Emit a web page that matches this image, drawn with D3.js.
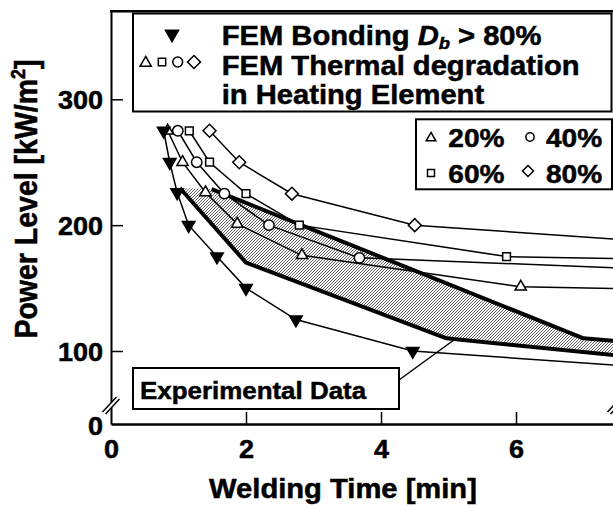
<!DOCTYPE html>
<html><head><meta charset="utf-8">
<script src="https://cdn.jsdelivr.net/npm/d3@7"></script>
<style>body{margin:0;background:#fff}svg{display:block}text{font-family:"Liberation Sans",Arial,Helvetica,sans-serif;font-weight:bold;fill:#000;stroke:#000;stroke-width:0.5px}</style>
</head><body><svg id="c" width="613" height="506"></svg>
<script>
// ---- data ----
const bondT = [0.78, 0.87, 0.98, 1.15, 1.57, 2.0, 2.74, 4.47, 9.0];
const bondP = [275, 250, 226, 200, 175, 150, 125, 100, 83];
const s20T = [0.84, 1.06, 1.40, 1.87, 2.83, 6.07, 9.0];
const s20P = [275, 250, 226, 201, 176, 151, 148];
const s40T = [0.99, 1.27, 1.68, 2.34, 3.68, 9.0];
const s40P = [275, 250, 225, 200, 174, 163];
const s60T = [1.16, 1.46, 2.0, 2.79, 5.86, 9.0];
const s60P = [275, 250, 225, 200, 175, 172];
const s80T = [1.46, 1.90, 2.68, 4.50, 9.0];
const s80P = [275, 250, 225, 200, 183];
const expUpperT = [1.49, 7.0, 8.0];
const expUpperP = [228.7, 110.1, 105.8];
const expLowerT = [1.02, 2.0, 4.97, 8.0];
const expLowerP = [229.5, 170.2, 110.1, 93.7];
const xTicks = [2, 4, 6];
const xTickLabels = [0, 2, 4, 6];
const yTicks = [100, 200, 300];
const yBreakLabel = "0";
const legendPct = ["20%", "40%", "60%", "80%"];

// ---- scales ----
const svg = d3.select("#c");
const x = d3.scaleLinear().domain([0, 8]).range([111, 651]);
const y = d3.scaleLinear().domain([42, 370]).range([424, 11.2]);
const SX = 1.08;

const defs = svg.append("defs");
const pat = defs.append("pattern").attr("id", "hatch").attr("patternUnits", "userSpaceOnUse")
  .attr("width", 3).attr("height", 3);
pat.append("rect").attr("width", 3).attr("height", 3).attr("fill", "#fff");
pat.append("path").attr("d", "M0,3L3,0M-1,1L1,-1M2,4L4,2").attr("stroke", "#444").attr("stroke-width", 0.85);
defs.append("clipPath").attr("id", "plot").append("rect").attr("x", 111).attr("y", 11).attr("width", 520).attr("height", 413);

const plot = svg.append("g").attr("clip-path", "url(#plot)");

// experimental band
const upper = expUpperT.map((t, i) => [x(t), y(expUpperP[i])]);
const lower = expLowerT.map((t, i) => [x(t), y(expLowerP[i])]);
plot.append("path").attr("d", d3.line()(upper.concat(lower.slice().reverse())))
  .attr("fill", "url(#hatch)").attr("stroke", "none");
[upper, lower].forEach(pts => plot.append("path").attr("d", d3.line()(pts))
  .attr("fill", "none").attr("stroke", "#000").attr("stroke-width", 4).attr("stroke-linejoin", "round"));

// series
const series = [
  {T: s20T, P: s20P, sym: "tri"},
  {T: s40T, P: s40P, sym: "circ"},
  {T: s60T, P: s60P, sym: "sq"},
  {T: s80T, P: s80P, sym: "dia"},
  {T: bondT, P: bondP, sym: "ftri"}
];
const symPath = {
  tri: d3.symbol().type(d3.symbolTriangle).size(55)(),
  ftri: d3.symbol().type(d3.symbolTriangle).size(68)(),
  circ: d3.symbol().type(d3.symbolCircle).size(84)(),
  sq: d3.symbol().type(d3.symbolSquare).size(60)(),
  dia: d3.symbol().type(d3.symbolSquare).size(84)()
};
function drawSym(g, kind, cx, cy, scale) {
  const rot = kind === "ftri" ? 180 : kind === "dia" ? 45 : 0;
  g.append("path").attr("d", symPath[kind])
    .attr("transform", `translate(${cx},${cy}) rotate(${rot}) scale(${scale || 1})`)
    .attr("fill", kind === "ftri" ? "#000" : "#fff").attr("stroke", "#000")
    .attr("stroke-width", 1.5 / (scale || 1));
}
series.forEach(s => {
  const pts = s.T.map((t, i) => [x(t), y(s.P[i])]);
  plot.append("path").attr("d", d3.line()(pts)).attr("fill", "none")
    .attr("stroke", "#000").attr("stroke-width", 1.5);
});
series.forEach(s => {
  s.T.forEach((t, i) => drawSym(plot, s.sym, x(t), y(s.P[i])));
});

// axes
const ax = svg.append("g");
const yAxis = d3.axisLeft(y).tickValues(yTicks).tickSizeInner(-12).tickSizeOuter(0).tickPadding(8);
const gy = ax.append("g").attr("transform", "translate(111,0)").call(yAxis);
gy.select(".domain").attr("stroke-width", 2);
gy.selectAll(".tick line").attr("stroke-width", 1.5);
gy.selectAll(".tick text").attr("font-size", 25).attr("dy", "0.36em")
  .attr("font-family", null).attr("transform", `scale(${SX},1)`)
  .attr("x", -8 / SX);

const xAxis = d3.axisBottom(x).tickValues(xTickLabels).tickSizeInner(-12).tickSizeOuter(0).tickPadding(16)
  .tickFormat(d3.format("d"));
const gx = ax.append("g").attr("transform", "translate(0,424)").call(xAxis);
gx.select(".domain").attr("stroke-width", 2.5);
gx.selectAll(".tick line").attr("stroke-width", 1.5).filter(d => !xTicks.includes(d)).remove();
gx.selectAll(".tick text").attr("font-size", 25).attr("font-family", null)
  .attr("transform", `scale(${SX},1)`);
svg.selectAll(".tick text").attr("fill", "#000");

// top frame
svg.append("line").attr("x1", 110).attr("x2", 613).attr("y1", y.range()[1]).attr("y2", y.range()[1])
  .attr("stroke", "#000").attr("stroke-width", 2.5);

// break label
svg.append("text").attr("transform", `translate(103,${y(42) + 11}) scale(${SX},1)`)
  .attr("text-anchor", "end").attr("font-size", 25).text(yBreakLabel);

// break marks
function breakMark(cx, cy) {
  const g = svg.append("g").attr("transform", `translate(${cx},${cy})`);
  g.append("path").attr("d", "M-8.5,8L5.5,-7L8.5,-5L-5.5,10Z").attr("fill", "#fff");
  g.append("path").attr("d", "M-8.5,8L5.5,-7M-5.5,10L8.5,-5").attr("stroke", "#000").attr("stroke-width", 1.5);
}
breakMark(111, 404);
breakMark(616, 404);

// helper for stretched text
function txt(px, py, size, anchor) {
  return svg.append("text").attr("transform", `translate(${px},${py}) scale(${SX},1)`)
    .attr("font-size", size).attr("text-anchor", anchor || "start");
}

// axis titles
txt(343, 498, 27, "middle").text("Welding Time [min]");
const yl = svg.append("text").attr("transform", `translate(37,199) scale(${SX},1) rotate(-90)`)
  .attr("font-size", 28.5).attr("text-anchor", "middle");
yl.append("tspan").text("Power Level [kW/m");
yl.append("tspan").attr("font-size", 18).attr("dy", -11).text("2");
yl.append("tspan").attr("dy", 11).text("]");

// legend 1
svg.append("rect").attr("x", 133).attr("y", 13.5).attr("width", 478.5).attr("height", 98)
  .attr("fill", "#fff").attr("stroke", "#000").attr("stroke-width", 2);
const l1 = txt(221.7, 45, 27);
l1.append("tspan").text("FEM Bonding ");
l1.append("tspan").attr("font-style", "italic").text("D");
l1.append("tspan").attr("font-style", "italic").attr("font-size", 17).attr("dy", 4).text("b");
l1.append("tspan").attr("dy", -4).text(" > 80%");
txt(221.7, 74.5, 27).text("FEM Thermal degradation");
txt(221.7, 103.5, 27).text("in Heating Element");
drawSym(svg, "ftri", 172, 34, 1.05);
drawSym(svg, "tri", 145.7, 63, 1.0);
drawSym(svg, "sq", 162, 62, 0.95);
drawSym(svg, "circ", 177.7, 62, 0.95);
drawSym(svg, "dia", 194, 62, 1.0);

// legend 2
svg.append("rect").attr("x", 416).attr("y", 119.3).attr("width", 196).attr("height", 70)
  .attr("fill", "#fff").attr("stroke", "#000").attr("stroke-width", 2);
txt(448.3, 146.7, 26).text(legendPct[0]);
txt(546, 146.7, 26).text(legendPct[1]);
txt(448.3, 183.3, 26).text(legendPct[2]);
txt(546, 183.3, 26).text(legendPct[3]);
drawSym(svg, "tri", 431, 138, 0.85);
drawSym(svg, "circ", 530, 137, 0.8);
drawSym(svg, "sq", 431, 173, 0.9);
drawSym(svg, "dia", 528, 171, 0.85);

// experimental label
svg.append("line").attr("x1", 399).attr("y1", 380).attr("x2", x(5.1)).attr("y2", 339)
  .attr("stroke", "#000").attr("stroke-width", 1.5);
svg.append("rect").attr("x", 133).attr("y", 368).attr("width", 266).attr("height", 41)
  .attr("fill", "#fff").attr("stroke", "#000").attr("stroke-width", 2);
txt(140, 399, 24).text("Experimental Data");
</script></body></html>
